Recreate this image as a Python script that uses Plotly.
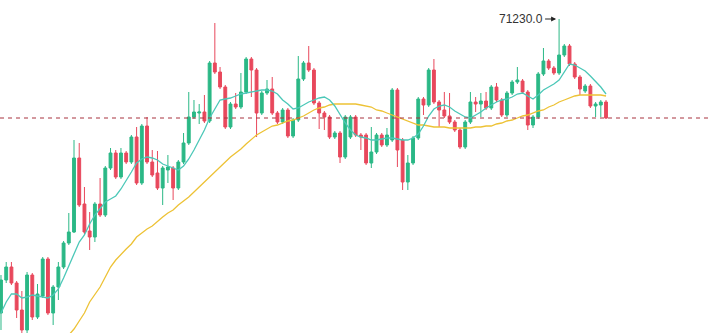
import plotly.graph_objects as go

opens = [63880, 64705, 65030, 64630, 63955, 63455, 64830, 63780, 64305, 65230,
         63880, 64530, 65030, 65630, 65905, 67755, 66605, 65930, 65780, 66605,
         66330, 67505, 67880, 67280, 67880, 67655, 68280, 67130, 68555, 67655,
         67380, 67005, 67455, 67505, 67005, 67655, 68130, 68780, 68880, 68905,
         68680, 70130, 69905, 69530, 68530, 69105, 69030, 69405, 70230, 69955,
         68880, 69380, 69480, 68880, 68655, 68955, 68305, 68705, 69730, 70130,
         69955, 69130, 68880, 68780, 68280, 68380, 67780, 68280, 68780, 68330,
         68330, 67630, 67905, 68330, 68080, 68205, 69455, 68205, 67155, 67630,
         68255, 69230, 69080, 69955, 69155, 68955, 68805, 68655, 68455, 68030,
         68655, 69155, 69105, 69180, 69005, 69530, 69205, 68830, 69380, 69655,
         69680, 69405, 68580, 68780, 69855, 70180, 70005, 69880, 70330, 70555,
         70105, 69780, 69430, 69555, 69055, 69080, 69155]
highs = [64830, 65155, 65155, 64680, 64430, 64905, 64880, 64605, 65280, 65280,
         64580, 65155, 65680, 66380, 68205, 68130, 67030, 66405, 66655, 67255,
         67555, 68005, 67955, 68005, 67930, 68330, 68530, 68605, 68780, 67955,
         67930, 67555, 67830, 67555, 67705, 68380, 69405, 69205, 69105, 69330,
         70180, 71130, 70030, 69580, 69155, 69380, 69880, 70280, 70280, 70005,
         69430, 69705, 69780, 68930, 69005, 69005, 68755, 70305, 70180, 70555,
         70005, 69180, 68930, 68830, 68430, 68430, 68830, 68830, 68830, 68380,
         68380, 68530, 68380, 68380, 68505, 69505, 69505, 68255, 67830, 68305,
         69280, 69280, 70005, 70230, 69205, 69405, 69380, 68705, 68505, 68705,
         69405, 69280, 69380, 69405, 69580, 69630, 69255, 69430, 69705, 70030,
         69730, 69455, 68830, 69905, 70505, 70230, 70055, 71230, 70605, 70605,
         70155, 69830, 69605, 69605, 69155, 69205, 69205]
lows = [63455, 64630, 64580, 63755, 63380, 63380, 63705, 63730, 64255, 63830,
        63580, 64205, 64980, 65580, 65880, 66530, 65855, 65455, 65655, 66280,
        66280, 67455, 67230, 67230, 67605, 67605, 67080, 67080, 67605, 67280,
        66955, 66580, 67130, 66705, 66955, 67605, 68080, 68730, 68605, 68630,
        68630, 69855, 69480, 68480, 68480, 68980, 68980, 69355, 69280, 68280,
        68830, 69330, 68830, 68605, 68605, 68255, 68255, 68655, 69680, 69905,
        69080, 68480, 68455, 68230, 68230, 67630, 67730, 68230, 68280, 67955,
        67580, 67505, 67855, 68030, 68030, 68155, 67530, 66955, 66955, 67580,
        68205, 68830, 69030, 69105, 68530, 68755, 68605, 68405, 67980, 67980,
        68605, 68905, 68780, 68955, 68955, 69155, 68780, 68780, 69330, 69605,
        69355, 68455, 68505, 68730, 69805, 69955, 69830, 69830, 70280, 70055,
        69730, 69330, 69380, 69005, 68780, 68780, 68730]
closes = [64705, 65030, 64630, 63955, 63455, 64830, 63780, 64355, 65230, 63880,
          64530, 65030, 65630, 65905, 67755, 66580, 65905, 65780, 66605, 66330,
          67505, 67880, 67280, 67880, 67655, 68280, 67130, 68555, 67655, 67330,
          67005, 67505, 67530, 67005, 67655, 68130, 68780, 68905, 68905, 68680,
          70130, 69905, 69530, 68530, 69105, 69030, 69405, 70230, 69955, 68880,
          69380, 69480, 68880, 68655, 68955, 68305, 68705, 69730, 70130, 69955,
          69130, 68880, 68780, 68280, 68380, 67780, 68780, 68780, 68330, 68280,
          67630, 67905, 68330, 68080, 68330, 69455, 67955, 67155, 67630, 68255,
          69230, 69080, 69955, 69155, 68955, 68805, 68655, 68455, 68030, 68655,
          69155, 69105, 69180, 69005, 69530, 69205, 68830, 69380, 69655, 69705,
          69405, 68580, 68780, 69855, 70180, 70005, 69880, 70330, 70555, 70105,
          69780, 69480, 69555, 69055, 69105, 69155, 68755]

ma_fast = [63880, 64155, 64355, 64355, 64255, 64280, 64330, 64305, 64280, 64255,
           64330, 64480, 64755, 65055, 65380, 65655, 65830, 66105, 66330, 66505,
           66655, 66730, 66805, 66980, 67180, 67405, 67630, 67730, 67780, 67755,
           67705, 67605, 67555, 67505, 67455, 67555, 67730, 67955, 68205, 68455,
           68755, 68980, 69205, 69230, 69255, 69305, 69355, 69380, 69405, 69430,
           69455, 69455, 69430, 69355, 69205, 69105, 68980, 69005, 69080, 69155,
           69205, 69255, 69280, 69205, 69055, 68830, 68630, 68455, 68330, 68280,
           68255, 68205, 68205, 68230, 68255, 68255, 68230, 68205, 68205, 68255,
           68355, 68555, 68805, 68980, 69055, 69080, 69030, 68930, 68855, 68780,
           68755, 68830, 68905, 69005, 69080, 69155, 69205, 69230, 69280, 69355,
           69380, 69305, 69230, 69330, 69455, 69530, 69605, 69705, 69905, 70105,
           70080, 70005, 69930, 69805, 69680, 69530, 69355]
ma_slow = [None] * 13 + [
           63330, 63480, 63680, 63880, 64155, 64330, 64530, 64780, 65030, 65205,
           65355, 65480, 65605, 65780, 65880, 65980, 66055, 66180, 66280, 66380,
           66455, 66580, 66680, 66780, 66905, 67030, 67155, 67305, 67430, 67555,
           67680, 67780, 67880, 67980, 68105, 68230, 68330, 68405, 68480, 68555,
           68580, 68630, 68680, 68705, 68755, 68805, 68880, 68955, 69005, 69030,
           69080, 69105, 69105, 69105, 69105, 69105, 69080, 69055, 69030, 68955,
           68930, 68880, 68830, 68780, 68730, 68680, 68630, 68580, 68580, 68555,
           68530, 68530, 68530, 68505, 68505, 68505, 68505, 68505, 68530, 68530,
           68555, 68555, 68605, 68630, 68680, 68705, 68755, 68805, 68830, 68880,
           68930, 68955, 69030, 69080, 69155, 69205, 69255, 69305, 69330, 69330,
           69330, 69330, 69330, 69305]

last_price = closes[-1]
peak_label = "71230.0"

x = list(range(len(closes)))
peak_idx = highs.index(max(highs))

fig = go.Figure()
fig.add_trace(go.Candlestick(
    x=x, open=opens, high=highs, low=lows, close=closes,
    increasing=dict(line=dict(color="#2BB886", width=1), fillcolor="#2BB886"),
    decreasing=dict(line=dict(color="#E8485C", width=1), fillcolor="#E8485C"),
    whiskerwidth=0, hoverinfo="skip", showlegend=False,
))
fig.add_trace(go.Scatter(
    x=x, y=ma_slow, mode="lines", line=dict(color="#EDC235", width=1.3),
    hoverinfo="skip", showlegend=False,
))
fig.add_trace(go.Scatter(
    x=x, y=ma_fast, mode="lines", line=dict(color="#4CC8B8", width=1.3),
    hoverinfo="skip", showlegend=False,
))

fig.add_shape(type="line", xref="paper", x0=0, x1=1, yref="y",
              y0=last_price, y1=last_price,
              line=dict(color="#A8323E", width=1, dash="4px,4px"))

fig.add_annotation(x=peak_idx, y=max(highs), text=peak_label,
                   showarrow=True, arrowhead=2, arrowsize=0.9, arrowwidth=1.1,
                   arrowcolor="#222222", standoff=3, ax=-14, ay=0,
                   xanchor="right", yanchor="middle",
                   font=dict(family="Arial, Liberation Sans, sans-serif", size=12, color="#333333"))

fig.update_layout(
    width=708, height=333,
    margin=dict(l=0, r=0, t=0, b=0),
    paper_bgcolor="white", plot_bgcolor="white",
    boxgap=0.22,
    xaxis=dict(visible=False, range=[-0.19, 135.55], rangeslider=dict(visible=False)),
    yaxis=dict(visible=False, range=[63380, 71705]),
)

fig.write_html("out.html")
